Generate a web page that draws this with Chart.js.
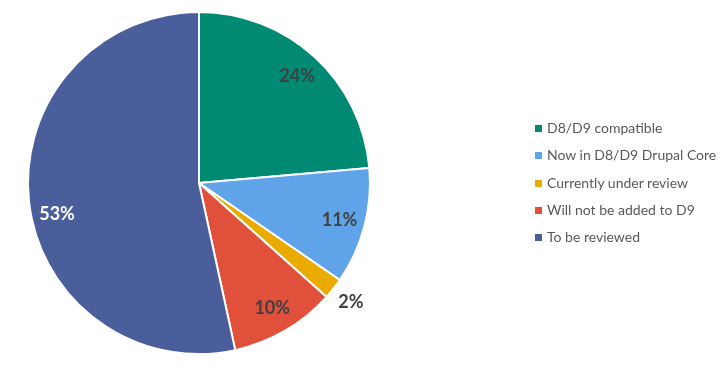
<!DOCTYPE html>
<html>
<head>
<meta charset="utf-8">
<script src="https://cdn.jsdelivr.net/npm/chart.js@4/dist/chart.umd.min.js"></script>
<style>
  html, body { margin: 0; padding: 0; background: #fff; }
  #wrap { position: relative; width: 724px; height: 376px; }
  #legend {
    position: absolute; left: 535px; top: 117px;
    font-family: Lato, "Open Sans", sans-serif; font-size: 14px; color: #595959;
  }
  #legend div { height: 27.3px; line-height: 22px; white-space: nowrap; }
  #legend span.box {
    display: inline-block; width: 7px; height: 7px; margin-right: 5px; vertical-align: 1px;
  }
</style>
</head>
<body>
<div id="wrap">
  <canvas id="myChart" width="724" height="376"></canvas>
  <div id="legend"></div>
</div>
<script>
const categories = ['D8/D9 compatible', 'Now in D8/D9 Drupal Core', 'Currently under review', 'Will not be added to D9', 'To be reviewed'];
const shares = [23.6, 11.0, 2.0, 10.0, 53.4];
const labels = ['24%', '11%', '2%', '10%', '53%'];
const colors = ['#008A73', '#5FA3E8', '#EAAB00', '#E0503A', '#4A5E9C'];
const labelColors = ['#404040', '#404040', '#404040', '#404040', '#FFFFFF'];
const labelOutside = [false, false, true, false, false];

// percent labels, Excel-style (inside at 85% radius, small ones outside)
const sliceLabels = {
  id: 'sliceLabels',
  afterDatasetsDraw(chart) {
    const { ctx } = chart;
    const meta = chart.getDatasetMeta(0);
    ctx.save();
    ctx.font = 'bold 18px Lato, "Open Sans", sans-serif';
    ctx.textAlign = 'center';
    ctx.textBaseline = 'middle';
    meta.data.forEach((arc, i) => {
      let mid = (arc.startAngle + arc.endAngle) / 2;
      // Excel pulls the label of a big slice a bit towards its start
      if (arc.endAngle - arc.startAngle > Math.PI) {
        mid -= 0.11;
      }
      const r = labelOutside[i] ? arc.outerRadius * 1.13 : arc.outerRadius * 0.85;
      ctx.fillStyle = labelColors[i];
      ctx.fillText(labels[i], arc.x + Math.cos(mid) * r, arc.y + Math.sin(mid) * r);
    });
    ctx.restore();
  },
};

const myChartRef = document.getElementById('myChart').getContext('2d');
const piechart = new Chart(myChartRef, {
  type: 'pie',
  data: {
    labels: categories,
    datasets: [{
      data: shares,
      backgroundColor: colors,
      borderColor: '#FFFFFF',
      borderWidth: 2,
    }],
  },
  options: {
    animation: false,
    responsive: false,
    layout: { padding: { left: 27, right: 353, top: 11, bottom: 21 } },
    plugins: {
      legend: { display: false },
      tooltip: { enabled: false },
    },
  },
  plugins: [sliceLabels],
});

const legend = document.getElementById('legend');
categories.forEach((name, i) => {
  const row = document.createElement('div');
  const box = document.createElement('span');
  box.className = 'box';
  box.style.background = colors[i];
  row.appendChild(box);
  row.appendChild(document.createTextNode(name));
  legend.appendChild(row);
});
</script>
</body>
</html>
